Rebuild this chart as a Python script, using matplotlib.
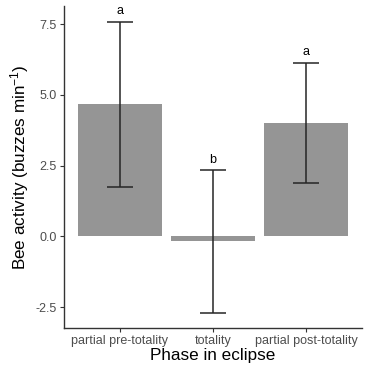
import matplotlib
matplotlib.use("Agg")
import matplotlib.pyplot as plt
import numpy as np

plt.rcParams.update({
	"font.family": ["Liberation Sans", "DejaVu Sans"],
	"mathtext.fontset": "custom",
	"mathtext.rm": "Liberation Sans",
	"mathtext.default": "regular",
})

# data
phases = ["partial pre-totality", "totality", "partial post-totality"]
activity = [4.69, -0.15, 3.99]
err_low = [1.75, -2.72, 1.87]
err_high = [7.58, 2.33, 6.14]
letters = ["a", "b", "a"]

fig = plt.figure(figsize=(3.68, 3.69), dpi=100)
ax = fig.add_axes([0.173, 0.111, 0.811, 0.872])

x = np.arange(len(phases))
ax.bar(x, activity, width=0.9, color="#959595", zorder=1)
mean = np.array(activity)
lo = mean - np.array(err_low)
hi = np.array(err_high) - mean
ax.errorbar(x, mean, yerr=[lo, hi], fmt="none", ecolor="#262626", elinewidth=1.1,
	capsize=9.5, capthick=1.1, zorder=2)
for xi, yi, t in zip(x, err_high, letters):
	ax.text(xi, yi + 0.17, t, ha="center", va="bottom", fontsize=9, color="black")

ax.set_xlim(-0.6, 2.6)
ax.set_ylim(-3.24, 8.13)
ax.set_yticks([-2.5, 0.0, 2.5, 5.0, 7.5])
ax.set_yticklabels(["-2.5", "0.0", "2.5", "5.0", "7.5"])
ax.set_xticks(x)
ax.set_xticklabels(phases)

ax.tick_params(which="major", length=3, width=0.8, direction="out", pad=2,
	labelsize=9, labelcolor="#4d4d4d", color="#333333")
ax.set_xlabel("Phase in eclipse", fontsize=12.3, labelpad=1)
ax.set_ylabel("Bee activity (buzzes min$^{-1}$)", fontsize=12.3, labelpad=3)

for s in ["top", "right"]:
	ax.spines[s].set_visible(False)
for s in ["left", "bottom"]:
	ax.spines[s].set_linewidth(1.0)
	ax.spines[s].set_color("#333333")

plt.savefig("out.png", dpi=100)
plt.close()
